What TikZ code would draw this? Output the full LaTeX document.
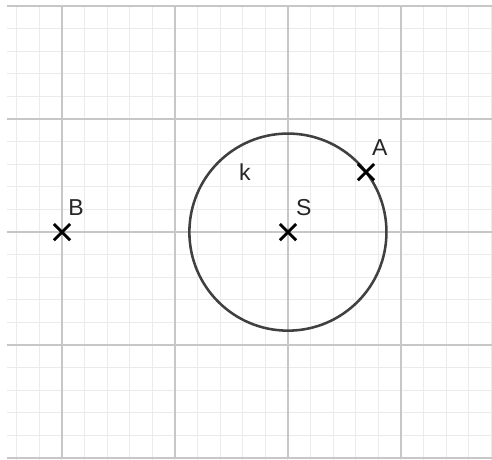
\documentclass[tikz,border=0pt]{standalone}
\usepackage{fontspec}
\setmainfont{Liberation Sans}
\usetikzlibrary{calc}

\begin{document}
\begin{tikzpicture}[
    x=0.5cm, y=0.5cm,
    minorgrid/.style={draw=black!8, line width=0.6pt},
    majorgrid/.style={draw=black!22, line width=0.8pt},
    kreis/.style={draw=black!75, line width=1.6pt},
    cross/.style={draw=black, line width=1.8pt},
    lbl/.style={font=\fontsize{14.5}{16}\selectfont, text=black!85, inner sep=0pt},
]
    \useasboundingbox (-12.74,-10.04) rectangle (9.03,10.27);

    % grid
    \begin{scope}
        \clip (-12.43,-10.05) rectangle (9.03,10.04);
        \draw[minorgrid] (-13,-11) grid[step=1] (10,11);
        \draw[majorgrid] (-15,-10) grid[step=5] (10,11);
    \end{scope}

    % points
    \coordinate (S) at (0,0);
    \coordinate (B) at (-10,0);
    \coordinate (A) at (37.5:4.36);

    % circle k
    \draw[kreis] (S) circle[radius=4.36];

    % crosses
    \foreach \p in {A,B,S} {
        \draw[cross] ($(\p)+(-0.36,-0.36)$) -- ($(\p)+(0.36,0.36)$);
        \draw[cross] ($(\p)+(-0.36,0.36)$) -- ($(\p)+(0.36,-0.36)$);
    }

    % labels
    \node[lbl] (lA) at (4.07,3.76) {A};
    \node[lbl] (lB) at (-9.38,1.1) {B};
    \node[lbl] (lS) at (0.7,1.1) {S};
    \node[lbl] (lk) at (-1.9,2.65) {k};
\end{tikzpicture}
\end{document}
